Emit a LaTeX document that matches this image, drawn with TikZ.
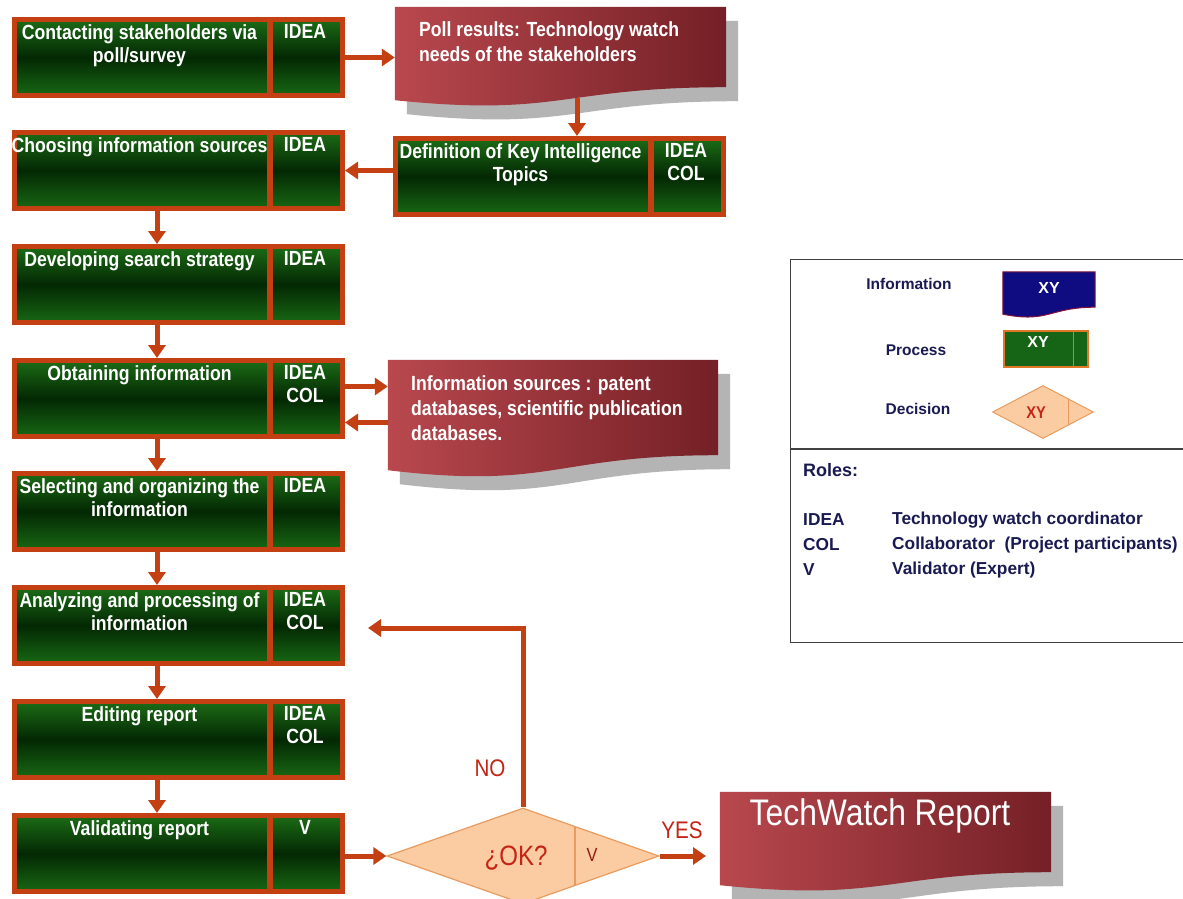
\documentclass[tikz,border=0pt]{standalone}
\usepackage{fontspec}
\setmainfont{Liberation Sans}
\newfontfamily\narrowf{Liberation Sans}[FakeStretch=0.86]
\usetikzlibrary{arrows.meta,shapes.geometric,calc}

\definecolor{arrowc}{RGB}{196,64,18}
\definecolor{gtop}{RGB}{28,108,22}
\definecolor{gmid}{RGB}{3,40,3}
\definecolor{gbot}{RGB}{24,104,20}
\definecolor{redL}{RGB}{184,72,78}
\definecolor{redR}{RGB}{116,32,38}
\definecolor{peach}{RGB}{251,204,162}
\definecolor{peachb}{RGB}{232,155,95}
\definecolor{navy}{RGB}{26,26,82}
\definecolor{navyfill}{RGB}{14,12,128}
\definecolor{navyedge}{RGB}{130,20,60}
\definecolor{lblred}{RGB}{196,36,22}
\definecolor{shadowg}{RGB}{180,180,180}
\definecolor{legg}{RGB}{22,100,22}
\definecolor{legorange}{RGB}{225,120,40}

\tikzset{
  arr/.style={draw=arrowc, line width=5pt, -{Triangle[length=13pt,width=17pt]}},
  divline/.style={draw=arrowc, line width=6pt},
  procbox/.style={rectangle, draw=arrowc, line width=5pt, top color=gtop, bottom color=gbot, middle color=gmid, minimum width=328pt, minimum height=76pt, inner sep=0pt},
  ptext/.style={font=\narrowf\bfseries\fontsize{20.5}{23}\selectfont, text=white, align=center, anchor=north, inner sep=0pt},
  itext/.style={font=\narrowf\bfseries\fontsize{20.5}{25}\selectfont, text=white, align=left, anchor=north west, inner sep=0pt},
  docnode/.style={rectangle, draw=none, inner sep=0pt},
  redfill/.style={left color=redL, right color=redR},
  shadowfill/.style={fill=shadowg},
  dec/.style={diamond, draw=peachb, fill=peach, line width=1.2pt, inner sep=0pt},
  declabel/.style={font=\narrowf\fontsize{24}{26}\selectfont, text=lblred, inner sep=0pt},
  legtext/.style={font=\bfseries\fontsize{15.5}{18}\selectfont, text=navy, inner sep=0pt},
  roletext/.style={font=\bfseries\fontsize{17.3}{20}\selectfont, text=navy, inner sep=0pt, anchor=west},
  xytext/.style={font=\bfseries\fontsize{16}{18}\selectfont, inner sep=0pt},
}

\newcommand{\PBox}[5]{%
  \node[procbox] (#1) at (#2,{#3+40.5}) {};
  \draw[divline] ($(#1.north west)+(258,0)$) -- ($(#1.south west)+(258,0)$);
  \node[ptext] (#1-l) at ($(#1.north west)+(127.5,7.5)$) {#4};
  \node[ptext] (#1-r) at ($(#1.north west)+(293,7.5)$) {#5};
}

\newcommand{\DocPath}[5]{%
  \path[#2] ($(#1.north west)+(#4,#5)$) -- ($(#1.north east)+(#4,#5)$) -- ($(#1.south east)+(#4,#5)$)
    .. controls ($(#1.south)+(#4,#5)$) and ($(#1.south)+(#4,{#5+2.31*#3})$) .. ($(#1.south west)+(#4,{#5+#3})$) -- cycle;
}

\begin{document}
\begin{tikzpicture}[x=1pt,y=-1pt]
\useasboundingbox (0,0) rectangle (1183,899);
\fill[white] (0,0) rectangle (1183,899);

% ---------- process boxes (left column)
\PBox{p1}{178.5}{17}{Contacting stakeholders via\\poll/survey}{IDEA}
\PBox{p2}{178.5}{130}{Choosing information sources}{IDEA}
\PBox{p3}{178.5}{244}{Developing search strategy}{IDEA}
\PBox{p4}{178.5}{358}{Obtaining information}{IDEA\\COL}
\PBox{p5}{178.5}{471}{Selecting and organizing the\\information}{IDEA}
\PBox{p6}{178.5}{585}{Analyzing and processing of\\information}{IDEA\\COL}
\PBox{p7}{178.5}{699}{Editing report}{IDEA\\COL}
\PBox{p8}{178.5}{813}{Validating report}{V}

% ---------- definition box
\PBox{def}{559.5}{136}{Definition of Key Intelligence\\Topics}{IDEA\\COL}

% ---------- information shapes
\node[docnode, minimum width=331pt, minimum height=80pt] (poll) at (560.5,47) {};
\DocPath{poll}{shadowfill}{13}{12}{14}
\DocPath{poll}{redfill}{13}{0}{0}
\node[itext] (poll-t) at (419,21) {Poll results: Technology watch\\needs of the stakeholders};

\node[docnode, minimum width=330pt, minimum height=95pt] (src) at (553,407.5) {};
\DocPath{src}{shadowfill}{15}{12}{14}
\DocPath{src}{redfill}{15}{0}{0}
\node[itext] (src-t) at (411,375) {Information sources : patent\\databases, scientific publication\\databases.};

\node[docnode, minimum width=331pt, minimum height=80pt] (rep) at (885.5,832) {};
\DocPath{rep}{shadowfill}{13}{12}{14}
\DocPath{rep}{redfill}{13}{0}{0}
\node[font=\narrowf\fontsize{37}{40}\selectfont, text=white, inner sep=0pt, anchor=north] (rep-t) at (880,798) {TechWatch Report};

% ---------- decision
\node[dec, minimum width=272pt, minimum height=96pt] (ok) at (523,856) {};
\draw[peachb, line width=1.2pt] ($(ok.center)+(52,-29.6)$) -- ($(ok.center)+(52,29.6)$);
\node[font=\narrowf\fontsize{28}{30}\selectfont, text=lblred, inner sep=0pt] (ok-t) at (516,858) {¿OK?};
\node[font=\narrowf\fontsize{19}{20}\selectfont, text=lblred!75!black, inner sep=0pt] (ok-r) at (592,855) {V};

% ---------- connectors
\draw[arr] (p1.east) -- (p1.east -| poll.west);
\coordinate (pollout) at ($(poll.south)+(16.5,11)$);
\draw[arr] (pollout) -- (pollout |- def.north);
\draw[arr] (def.west |- p2.east) -- (p2.east);
\draw[arr] ($(p2.south)+(-21.5,0)$) -- ($(p3.north)+(-21.5,0)$);
\draw[arr] ($(p3.south)+(-21.5,0)$) -- ($(p4.north)+(-21.5,0)$);
\draw[arr] ($(p4.south)+(-21.5,0)$) -- ($(p5.north)+(-21.5,0)$);
\draw[arr] ($(p5.south)+(-21.5,0)$) -- ($(p6.north)+(-21.5,0)$);
\draw[arr] ($(p6.south)+(-21.5,0)$) -- ($(p7.north)+(-21.5,0)$);
\draw[arr] ($(p7.south)+(-21.5,0)$) -- ($(p8.north)+(-21.5,0)$);
\coordinate (o1) at ($(p4.east)+(0,-12)$);
\draw[arr] (o1) -- (o1 -| src.west);
\coordinate (o2) at ($(p4.east)+(0,24)$);
\draw[arr] (o2 -| src.west) -- (o2);
\draw[arr] (p8.east |- ok.west) -- (ok.west);
\coordinate (noend) at (368,628);
\draw[arr] (ok.north) |- (noend);
\coordinate (yesend) at (706,856);
\draw[arr] (ok.east) -- (yesend);
\node[declabel] (no) at (490,768) {NO};
\node[declabel] (yes) at (682,830) {YES};

% ---------- legend
\node[rectangle, draw=black!75, line width=1.2pt, minimum width=400pt, minimum height=383pt, anchor=north west, inner sep=0pt] (legend) at (790,259) {};
\draw[black!75, line width=1.2pt] ($(legend.north west)+(0,190)$) -- ($(legend.north east)+(0,190)$);

\node[legtext] (l1) at (909,284) {Information};
\node[legtext] (l2) at (916,350) {Process};
\node[legtext] (l3) at (918,409) {Decision};

\node[docnode, minimum width=92pt, minimum height=35pt] (linfo) at (1049,289.5) {};
\DocPath{linfo}{fill=navyfill, draw=navyedge, line width=1pt}{7}{0}{0}
\node[xytext, text=white] (linfo-t) at (1049,288) {XY};

\node[rectangle, fill=legg, draw=legorange, line width=1.5pt, minimum width=84pt, minimum height=36pt, inner sep=0pt] (lproc) at (1046,349) {};
\draw[legorange, line width=1.2pt] ($(lproc.north west)+(70,0)$) -- ($(lproc.south west)+(70,0)$);
\node[xytext, text=white] (lproc-t) at (1038,342) {XY};

\node[dec, minimum width=101pt, minimum height=53pt, line width=1pt] (ldec) at (1043,412) {};
\draw[peachb, line width=1pt] ($(ldec.center)+(25,-13.4)$) -- ($(ldec.center)+(25,13.4)$);
\node[xytext, text=lblred, font=\narrowf\bfseries\fontsize{17}{18}\selectfont] (ldec-t) at (1036,413) {XY};

\node[roletext, font=\bfseries\fontsize{18}{20}\selectfont] (roles) at (803,470) {Roles:};
\node[roletext] (r1a) at (803,520) {IDEA};
\node[roletext] (r1b) at (892,520) {Technology watch coordinator};
\node[roletext] (r2a) at (803,545) {COL};
\node[roletext] (r2b) at (892,545) {Collaborator\ \ (Project participants)};
\node[roletext] (r3a) at (803,570) {V};
\node[roletext] (r3b) at (892,570) {Validator (Expert)};
\end{tikzpicture}
\end{document}
